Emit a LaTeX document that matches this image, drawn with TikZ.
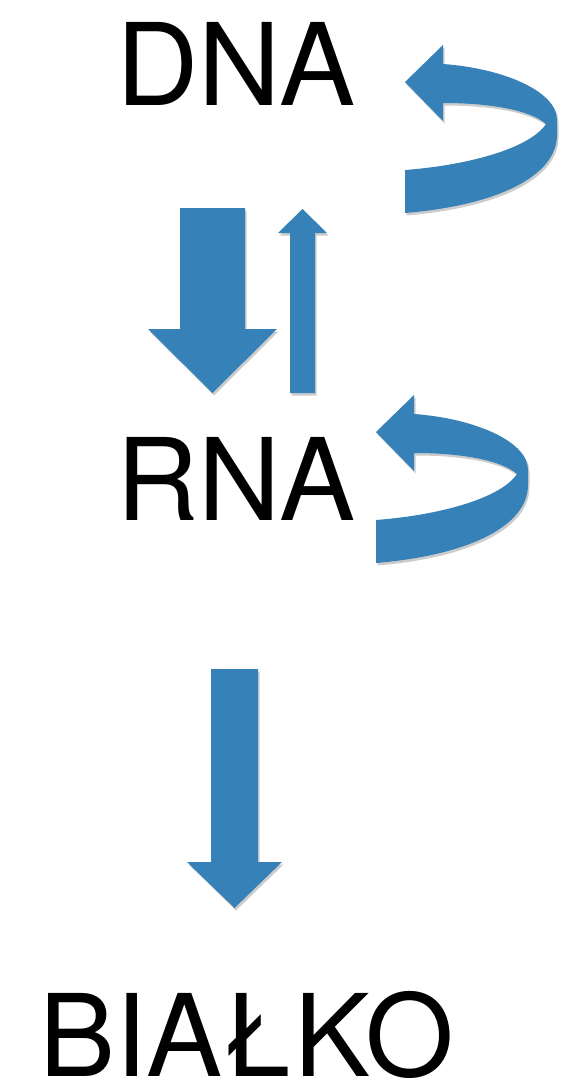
\documentclass[tikz,border=0pt]{standalone}
\usepackage{fontspec}
\setmainfont{TeX Gyre Heros}
\usetikzlibrary{shadows}
\definecolor{paperblue}{RGB}{54,129,184}
\tikzset{
  word/.style={inner sep=0pt, anchor=base west, font=\fontsize{114}{120}\selectfont},
  block/.style={fill=paperblue, draw=none, drop shadow={shadow xshift=1.5pt, shadow yshift=-2.5pt, opacity=0.4}},
  loop arrow/.pic={
    \fill[block] (0,0) -- (38,-37) -- (38,-18)
      .. controls (95,-14) and (152,8) .. (152,38) -- (152,53)
      .. controls (152,93) and (95,123) .. (0,131) -- (0,88)
      .. controls (65,83) and (125,66) .. (141,42)
      .. controls (125,28) and (85,21) .. (38,21) -- (38,39) -- cycle;
  }
}

\begin{document}
\begin{tikzpicture}[x=1pt,y=-1pt]
  \useasboundingbox (0,0) rectangle (563,1084);

  \node[word] (dna) at (116,105) {DNA};
  \node[word] (rna) at (116,520) {RNA};
  \node[word] (bialko) at (39,1076) {BIAŁKO};

  % transcription / reverse transcription
  \fill[block] (180,208) -- (245,208) -- (245,329) -- (277,329) -- (212.5,393)
    -- (148,329) -- (180,329) -- cycle;
  \fill[block] (290,393) -- (315,393) -- (315,233) -- (327,233) -- (302.5,209)
    -- (278,233) -- (290,233) -- cycle;

  % replication
  \pic at (405,82) {loop arrow};
  \pic at (376,432) {loop arrow};

  % translation
  \fill[block] (211,669) -- (258,669) -- (258,862) -- (282,862) -- (234.5,908)
    -- (187,862) -- (211,862) -- cycle;
\end{tikzpicture}
\end{document}
